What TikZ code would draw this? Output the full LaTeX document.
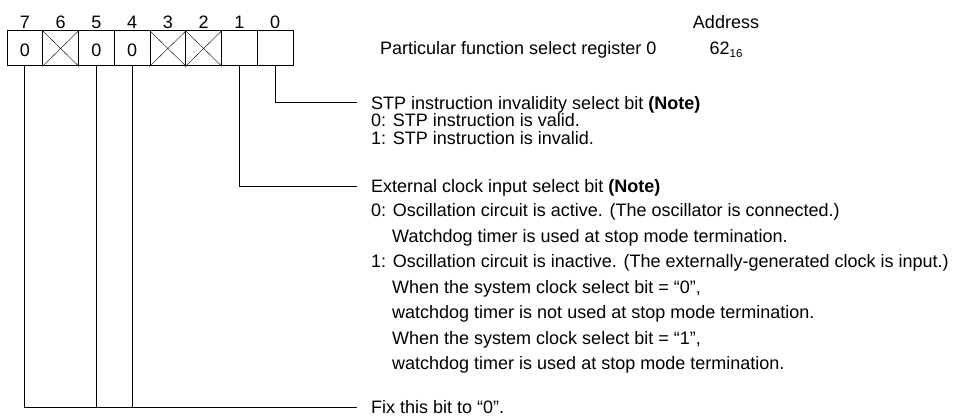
\documentclass[tikz,border=0pt]{standalone}
\usepackage{fontspec}
\setmainfont{Liberation Sans}
\usetikzlibrary{positioning}

\begin{document}
\begin{tikzpicture}[x=1pt,y=-1pt,
  txt/.style={font=\fontsize{18}{21}\selectfont,inner sep=0pt},
  bitcell/.style={txt,draw,line width=1pt,minimum width=35.75pt,minimum height=35pt,text height=16pt},
  bitnum/.style={txt,anchor=base},
  desc/.style={txt,anchor=base west},
  lead/.style={line width=1pt}]
\useasboundingbox (0,0) rectangle (961,417);
\foreach \b/\v [count=\i from 0] in {7/0,6/,5/0,4/0,3/,2/,1/,0/}{
  \node[bitcell] (c\b) at (24.9+35.75*\i,48.5) {\v};
  \node[bitnum] (n\b) at (24.9+35.75*\i,28.5) {\b};
}
\foreach \b in {6,3,2}
  \draw (c\b.north west) -- (c\b.south east) (c\b.north east) -- (c\b.south west);

\node[desc] (reg) at (380,55) {Particular function select register 0};
\node[txt] (addr) at (726,22) {Address};
\node[txt,anchor=base] (hex) at (726,55) {62\raisebox{-2.5pt}{\fontsize{11.5}{11.5}\selectfont 16}};

\node[desc] (stp) at (371,109.5) {STP instruction invalidity select bit \textbf{(Note)}};
\node[desc] (stp0) at (371,127) {0: STP instruction is valid.};
\node[desc] (stp1) at (371,144.5) {1: STP instruction is invalid.};

\node[desc] (ext) at (371,192.5) {External clock input select bit \textbf{(Note)}};
\node[desc] (ext0) at (371,216.5) {0: Oscillation circuit is active. (The oscillator is connected.)};
\node[desc] (ext0a) at (392,242) {Watchdog timer is used at stop mode termination.};
\node[desc] (ext1) at (371,267.5) {1: Oscillation circuit is inactive. (The externally-generated clock is input.)};
\node[desc] (ext1a) at (392,293) {When the system clock select bit = “0”,};
\node[desc] (ext1b) at (392,318.5) {watchdog timer is not used at stop mode termination.};
\node[desc] (ext1c) at (392,344) {When the system clock select bit = “1”,};
\node[desc] (ext1d) at (392,369.5) {watchdog timer is used at stop mode termination.};

\node[desc] (fix) at (371,413.5) {Fix this bit to “0”.};

\draw[lead] (c0.south) |- ([xshift=-14pt,yshift=6.5pt]stp.base west);
\draw[lead] (c1.south) |- ([xshift=-14pt,yshift=6.5pt]ext.base west);
\draw[lead] (c7.south) |- ([xshift=-14pt,yshift=6.5pt]fix.base west);
\draw[lead] (c5.south) -- (c5.south |- fix.west);
\draw[lead] (c4.south) -- (c4.south |- fix.west);
\end{tikzpicture}
\end{document}
